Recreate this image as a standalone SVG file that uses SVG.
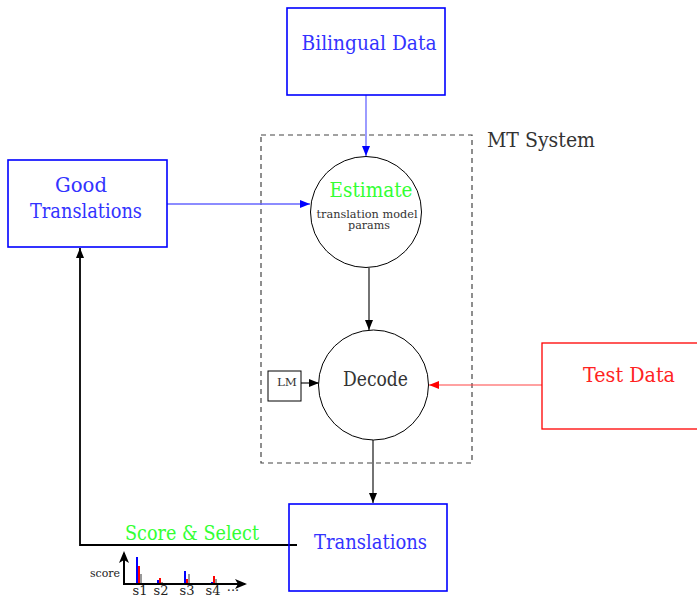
<svg xmlns="http://www.w3.org/2000/svg" width="697" height="598" viewBox="0 0 697 598" font-family="'DejaVu Serif', 'Liberation Serif', serif">
  <style>
    text { font-family: "DejaVu Serif", "Liberation Serif", serif; }
    .box-blue { fill: none; stroke: #0000ff; stroke-width: 1.6; }
    .box-red { fill: none; stroke: #ff0000; stroke-width: 1.3; }
    .node-circle { fill: #ffffff; stroke: #000000; stroke-width: 1; }
    .lbl-blue { fill: #3333ff; font-size: 21px; text-anchor: middle; }
    .lbl-red { fill: #ff2222; font-size: 21px; text-anchor: middle; }
    .lbl-dark { fill: #333333; font-size: 21px; }
    .lbl-green { fill: #33ff33; font-size: 21px; text-anchor: middle; }
    .lbl-small { fill: #333333; font-size: 10.5px; text-anchor: middle; }
    .wire-blue { stroke: #6666ff; stroke-width: 1.3; fill: none; }
    .wire-black { stroke: #000000; stroke-width: 1.1; fill: none; }
    .wire-red { stroke: #ff4444; stroke-width: 1.2; fill: none; }
    .wire-thick { stroke: #000000; stroke-width: 1.8; fill: none; }
    .tick { fill: #222222; font-size: 13px; text-anchor: middle; }
  </style>
  <defs>
    <marker id="tip-blue" viewBox="0 0 10 8" refX="10" refY="4" markerUnits="userSpaceOnUse" markerWidth="10" markerHeight="8" orient="auto">
      <path d="M0,0 L10,4 L0,8 Z" fill="#0000ff"/>
    </marker>
    <marker id="tip-black" viewBox="0 0 10 8" refX="10" refY="4" markerUnits="userSpaceOnUse" markerWidth="10" markerHeight="8" orient="auto">
      <path d="M0,0 L10,4 L0,8 Z" fill="#000000"/>
    </marker>
    <marker id="tip-red" viewBox="0 0 10 8" refX="10" refY="4" markerUnits="userSpaceOnUse" markerWidth="10" markerHeight="8" orient="auto">
      <path d="M0,0 L10,4 L0,8 Z" fill="#ff0000"/>
    </marker>
    <marker id="tip-axis" viewBox="0 0 12 10" refX="10" refY="5" markerUnits="userSpaceOnUse" markerWidth="12" markerHeight="10" orient="auto">
      <path d="M0,0 L12,5 L0,10 L3,5 Z" fill="#000000"/>
    </marker>
  </defs>

  <rect width="697" height="598" fill="#ffffff"/>

  <!-- MT system boundary -->
  <g id="mt-system">
    <rect x="261" y="135" width="211" height="328" fill="none" stroke="#444444" stroke-width="1.2" stroke-dasharray="5,4"/>
    <text class="lbl-dark" x="487" y="147" textLength="108" lengthAdjust="spacingAndGlyphs">MT System</text>
  </g>

  <!-- connectors -->
  <g id="connectors">
    <line class="wire-blue" x1="366" y1="95" x2="366" y2="156" marker-end="url(#tip-blue)"/>
    <line class="wire-blue" x1="167" y1="204" x2="310" y2="204" marker-end="url(#tip-blue)"/>
    <line class="wire-black" x1="369" y1="268" x2="369" y2="330" marker-end="url(#tip-black)"/>
    <line class="wire-black" x1="301" y1="383" x2="319" y2="383" marker-end="url(#tip-black)"/>
    <line class="wire-red" x1="542" y1="385" x2="429" y2="385" marker-end="url(#tip-red)"/>
    <line class="wire-black" x1="373" y1="440" x2="373" y2="503" marker-end="url(#tip-black)"/>
    <polyline class="wire-thick" points="297,545 80,545 80,248" marker-end="url(#tip-black)"/>
  </g>

  <g id="bilingual-data">
    <rect class="box-blue" x="287" y="8" width="158" height="87"/>
    <text class="lbl-blue" x="369" y="50" textLength="135" lengthAdjust="spacingAndGlyphs">Bilingual Data</text>
  </g>

  <g id="good-translations">
    <rect class="box-blue" x="8" y="160" width="159" height="87"/>
    <text class="lbl-blue" x="81" y="192" textLength="52" lengthAdjust="spacingAndGlyphs">Good</text>
    <text class="lbl-blue" x="86" y="218" textLength="112" lengthAdjust="spacingAndGlyphs">Translations</text>
  </g>

  <g id="estimate">
    <circle class="node-circle" cx="366" cy="212" r="55.5"/>
    <text class="lbl-green" x="371" y="197" textLength="83" lengthAdjust="spacingAndGlyphs">Estimate</text>
    <text class="lbl-small" x="367" y="217.5" textLength="101" lengthAdjust="spacingAndGlyphs">translation model</text>
    <text class="lbl-small" x="369" y="229" textLength="42" lengthAdjust="spacingAndGlyphs">params</text>
  </g>

  <g id="lm">
    <rect x="268" y="371" width="33" height="30" fill="#ffffff" stroke="#000000" stroke-width="1"/>
    <text class="lbl-small" x="287" y="386" textLength="20" lengthAdjust="spacingAndGlyphs">LM</text>
  </g>

  <g id="decode">
    <circle class="node-circle" cx="373.5" cy="385" r="55"/>
    <text class="lbl-dark" x="343" y="386" textLength="65" lengthAdjust="spacingAndGlyphs">Decode</text>
  </g>

  <g id="test-data">
    <rect class="box-red" x="542" y="343" width="170" height="86"/>
    <text class="lbl-red" x="629" y="382" textLength="92" lengthAdjust="spacingAndGlyphs">Test Data</text>
  </g>

  <g id="translations">
    <rect class="box-blue" x="289" y="504" width="158" height="87"/>
    <text class="lbl-blue" x="370.5" y="549" textLength="113" lengthAdjust="spacingAndGlyphs">Translations</text>
  </g>

  <g id="score-select">
    <text class="lbl-green" x="192" y="540" textLength="134" lengthAdjust="spacingAndGlyphs">Score &amp; Select</text>
  </g>

  <!-- small score chart -->
  <g id="score-chart">
    <rect x="136" y="557" width="2" height="27" fill="#0000ff"/>
    <rect x="138" y="566" width="2" height="18" fill="#ff0000"/>
    <rect x="140" y="574" width="2" height="10" fill="#999999"/>
    <rect x="157" y="580" width="2" height="4" fill="#0000ff"/>
    <rect x="159" y="578" width="2" height="6" fill="#ff0000"/>
    <rect x="161" y="582" width="2" height="2" fill="#999999"/>
    <rect x="184" y="571" width="2" height="13" fill="#0000ff"/>
    <rect x="186" y="579" width="2" height="5" fill="#ff0000"/>
    <rect x="188" y="574" width="2" height="10" fill="#999999"/>
    <rect x="211" y="582" width="2" height="2" fill="#0000ff"/>
    <rect x="213" y="576" width="2" height="8" fill="#ff0000"/>
    <rect x="215" y="579" width="2" height="5" fill="#999999"/>
    <line x1="124" y1="585" x2="124" y2="553" stroke="#000000" stroke-width="2" marker-end="url(#tip-axis)"/>
    <line x1="123" y1="584" x2="245" y2="584" stroke="#000000" stroke-width="2" marker-end="url(#tip-axis)"/>
    <text x="120" y="577" font-size="10.5px" fill="#222222" text-anchor="end" textLength="30" lengthAdjust="spacingAndGlyphs">score</text>
    <text class="tick" x="140" y="594.5">s1</text>
    <text class="tick" x="161" y="594.5">s2</text>
    <text class="tick" x="187" y="594.5">s3</text>
    <text class="tick" x="213" y="594.5">s4</text>
    <text class="tick" x="233" y="594.5">···</text>
  </g>
</svg>
